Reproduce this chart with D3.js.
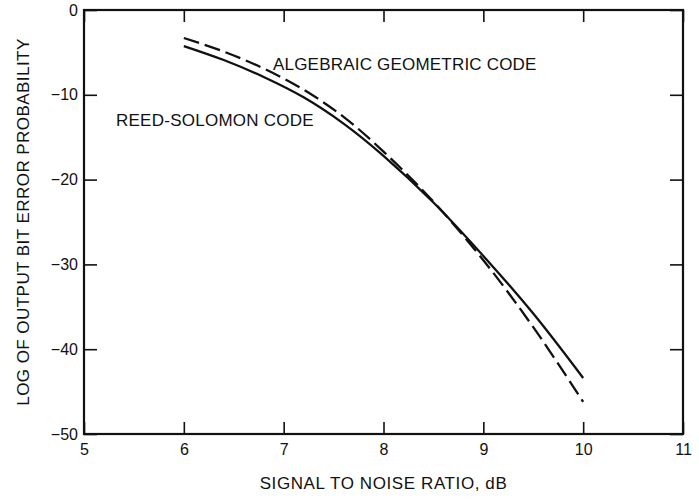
<!DOCTYPE html>
<html>
<head>
<meta charset="utf-8">
<script src="https://cdn.jsdelivr.net/npm/d3@7"></script>
<style>
  body { margin: 0; background: #fff; }
  svg text { font-family: "Liberation Sans", Arial, sans-serif; fill: #111; }
</style>
</head>
<body>
<div id="chart"></div>
<script>
// values
const snr = [6.0, 6.4, 6.8, 7.2, 7.6, 8.0, 8.5, 9.0, 9.5, 10.0];
const reedSolomon = [-4.25, -5.9, -7.9, -10.3, -13.4, -17.2, -22.7, -29.0, -35.8, -43.4];
const algebraicGeometric = [-3.3, -4.9, -6.9, -9.4, -12.6, -16.7, -22.6, -29.5, -37.4, -46.2];

const xTicks = [5, 6, 7, 8, 9, 10, 11];
const yTicks = [0, -10, -20, -30, -40, -50];

const width = 699, height = 500;
const plotLeft = 84, plotRight = 683, plotTop = 10, plotBottom = 434;

const svg = d3.select('#chart')
    .append('svg')
    .attr('width', width)
    .attr('height', height);

const x = d3.scaleLinear().domain([5, 11]).range([plotLeft, plotRight]);
const y = d3.scaleLinear().domain([-50, 0]).range([plotBottom, plotTop]);

// axes, ticks pointing inward on all four sides
const fmt = d => d3.format('d')(d).replace('-', '\u2212');

const gx = svg.append('g')
    .attr('transform', `translate(0,${plotBottom})`)
    .call(d3.axisBottom(x).tickValues(xTicks).tickSize(-12).tickPadding(10).tickFormat(fmt));

const gy = svg.append('g')
    .attr('transform', `translate(${plotLeft},0)`)
    .call(d3.axisLeft(y).tickValues(yTicks).tickSize(-13).tickPadding(6).tickFormat(fmt));

const gt = svg.append('g')
    .attr('transform', `translate(0,${plotTop})`)
    .call(d3.axisTop(x).tickValues(xTicks).tickSize(-12).tickFormat(''));

const gr = svg.append('g')
    .attr('transform', `translate(${plotRight},0)`)
    .call(d3.axisRight(y).tickValues(yTicks).tickSize(-13).tickFormat(''));

[gx, gy, gt, gr].forEach(g => {
    g.select('.domain').remove();
    g.selectAll('line').style('stroke', '#111').style('stroke-width', 1.6);
    g.selectAll('text').style('font-size', '16px').style('fill', '#111')
        .style('font-family', '"Liberation Sans", Arial, sans-serif');
});

// frame
svg.append('rect')
    .attr('x', plotLeft)
    .attr('y', plotTop)
    .attr('width', plotRight - plotLeft)
    .attr('height', plotBottom - plotTop)
    .style('fill', 'none')
    .style('stroke', '#111')
    .style('stroke-width', 2.2);

// curves
const line = d3.line()
    .x(d => x(d[0]))
    .y(d => y(d[1]))
    .curve(d3.curveCatmullRom.alpha(0.5));

svg.append('path')
    .datum(snr.map((s, i) => [s, reedSolomon[i]]))
    .attr('d', line)
    .style('fill', 'none')
    .style('stroke', '#111')
    .style('stroke-width', 2.3);

svg.append('path')
    .datum(snr.map((s, i) => [s, algebraicGeometric[i]]))
    .attr('d', line)
    .style('fill', 'none')
    .style('stroke', '#111')
    .style('stroke-width', 2.3)
    .style('stroke-dasharray', '16,6');

// curve labels
svg.append('text')
    .attr('x', 273)
    .attr('y', 70)
    .style('font-size', '17px')
    .style('letter-spacing', '0.2px')
    .text('ALGEBRAIC GEOMETRIC CODE');

svg.append('text')
    .attr('x', 116)
    .attr('y', 126)
    .style('font-size', '17px')
    .style('letter-spacing', '0.25px')
    .text('REED-SOLOMON CODE');

// axis titles
svg.append('text')
    .attr('x', x(8))
    .attr('y', 489)
    .attr('text-anchor', 'middle')
    .style('font-size', '17px')
    .style('letter-spacing', '0.6px')
    .text('SIGNAL TO NOISE RATIO, dB');

svg.append('text')
    .attr('transform', 'translate(29,222) rotate(-90)')
    .attr('text-anchor', 'middle')
    .style('font-size', '17px')
    .style('letter-spacing', '0.45px')
    .text('LOG OF OUTPUT BIT ERROR PROBABILITY');
</script>
</body>
</html>
